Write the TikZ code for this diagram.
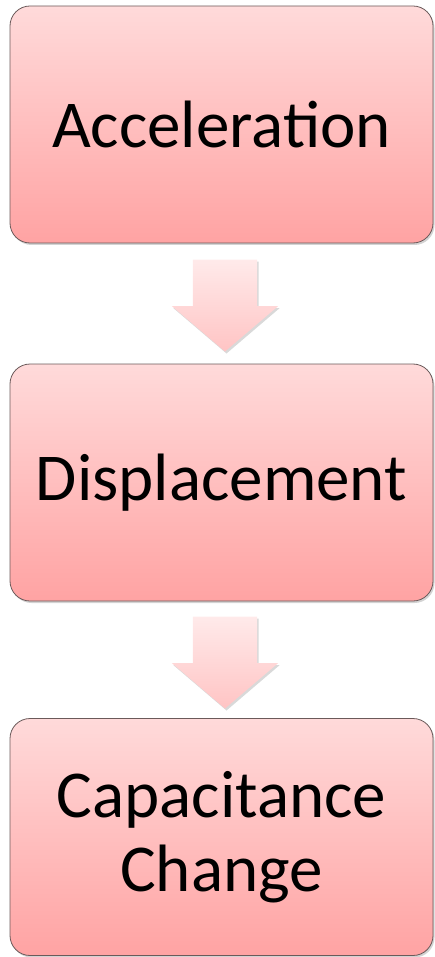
\documentclass[tikz,border=0pt]{standalone}
\usepackage{fontspec}
\setmainfont{Carlito}
\usepackage{tikz}
\usetikzlibrary{shapes.arrows, positioning, calc, shadows}
\definecolor{pinktop}{HTML}{FFDADA}
\definecolor{pinkbot}{HTML}{FFA3A3}
\definecolor{arrtop}{HTML}{FFEAEA}
\definecolor{arrbot}{HTML}{FFC4C4}
\definecolor{edgegray}{HTML}{6B5A5A}

\begin{document}
\begin{tikzpicture}[x=1pt, y=-1pt,
    stage/.style={rectangle, rounded corners=20pt, draw=edgegray, line width=0.8pt,
      top color=pinktop, bottom color=pinkbot, minimum width=423pt,
      minimum height=237pt, align=center, inner sep=0pt,
      font=\fontsize{67}{74}\selectfont,
      drop shadow={opacity=0.35, shadow xshift=1.5pt, shadow yshift=-2pt}},
    downarr/.style={single arrow, rotate=-90, anchor=tail, draw=none, top color=arrtop,
      bottom color=arrbot, minimum height=90pt, minimum width=106pt,
      single arrow head extend=21pt, single arrow tip angle=99, inner sep=32pt,
      text height=0pt, text depth=0pt, text width=0pt,
      drop shadow={opacity=0.3, shadow xshift=1.5pt, shadow yshift=-2pt}},
  ]
    \useasboundingbox (0,0) rectangle (435,957);

    \node[stage] (acc)  at (221.5,124.5) {Acceleration};
    \node[stage] (disp) at (221.5,482.5) {Displacement};
    \node[stage] (cap)  at (221.5,837)   {Capacitance\\Change};

    \node[downarr] (a1) at ($(acc.south)+(3.5,16)$) {};
    \node[downarr] (a2) at ($(disp.south)+(3.5,15)$) {};
  \end{tikzpicture}
\end{document}
